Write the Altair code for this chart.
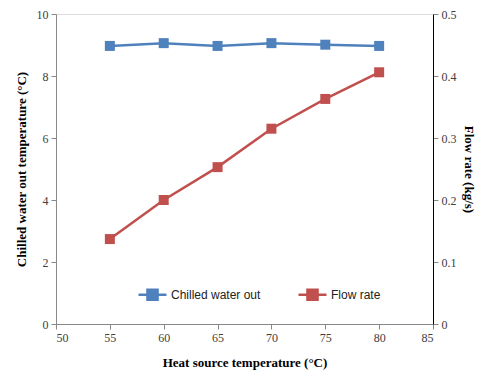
import altair as alt
import pandas as pd

temps = [55, 60, 65, 70, 75, 80]
chilled_out = [8.97, 9.06, 8.97, 9.06, 9.01, 8.97]
flow_rate = [0.137, 0.200, 0.253, 0.315, 0.363, 0.406]
series_names = ["Chilled water out", "Flow rate"]
series_colors = ["#4F81BD", "#C0504D"]
x_ticks = [50, 55, 60, 65, 70, 75, 80, 85]
left_ticks = [0, 2, 4, 6, 8, 10]
right_ticks = [0, 0.1, 0.2, 0.3, 0.4, 0.5]

df1 = pd.DataFrame({"temp": temps, "value": chilled_out, "series": series_names[0]})
df2 = pd.DataFrame({"temp": temps, "value": flow_rate, "series": series_names[1]})

serif = "Liberation Serif, Times New Roman, serif"
axis_color = "#404040"
ax_style = dict(labelFont=serif, labelFontSize=12, labelColor="#404040",
                titleFont=serif, titleFontSize=13, titleFontWeight="bold",
                titleColor="black", grid=False, tickSize=5)

x_enc = alt.X(
    "temp:Q",
    scale=alt.Scale(domain=[50, 85], nice=False),
    axis=alt.Axis(values=x_ticks, title="Heat source temperature (°C)",
                  titlePadding=13, labelPadding=3, **ax_style),
)

sym_path = "M-1,0L1,0M-0.36,-0.36L0.36,-0.36L0.36,0.36L-0.36,0.36Z"
color_enc = alt.Color(
    "series:N",
    scale=alt.Scale(domain=series_names, range=series_colors),
    legend=alt.Legend(
        title=None, orient="none", legendX=81, legendY=265, direction="horizontal",
        symbolType=sym_path, symbolSize=784, symbolStrokeWidth=2.5,
        labelFont="Liberation Sans", labelFontSize=12, labelColor="#222222",
        labelOffset=3, columnPadding=32,
    ),
)

left_y = alt.Y(
    "value:Q",
    scale=alt.Scale(domain=[0, 10], nice=False),
    axis=alt.Axis(values=left_ticks, title="Chilled water out temperature (°C)",
                  orient="left", titlePadding=8, labelPadding=3, **ax_style),
)
right_y = alt.Y(
    "value:Q",
    scale=alt.Scale(domain=[0, 0.5], nice=False),
    axis=alt.Axis(values=right_ticks, format=".1~f", title="Flow rate (kg/s)",
                  orient="right", titlePadding=5, labelPadding=3, domainColor="black",
                  **ax_style),
)

base1 = alt.Chart(df1).encode(x=x_enc, y=left_y, color=color_enc)
base2 = alt.Chart(df2).encode(x=x_enc, y=right_y, color=color_enc)

layer1 = alt.layer(
    base1.mark_line(strokeWidth=2.5),
    base1.mark_point(shape="square", filled=True, size=100, opacity=1),
)
layer2 = alt.layer(
    base2.mark_line(strokeWidth=2.5),
    base2.mark_point(shape="square", filled=True, size=100, opacity=1),
)

chart = (
    alt.layer(layer1, layer2)
    .resolve_scale(y="independent")
    .properties(
        width=377, height=310, autosize="none",
        padding={"left": 48, "top": 6, "right": 46, "bottom": 47},
    )
    .configure_view(stroke=axis_color, strokeWidth=1)
    .configure_axis(domainColor=axis_color, tickColor=axis_color)
    .configure(background="white")
)

chart.save("out.html", embed_options={"renderer": "svg", "actions": False})
